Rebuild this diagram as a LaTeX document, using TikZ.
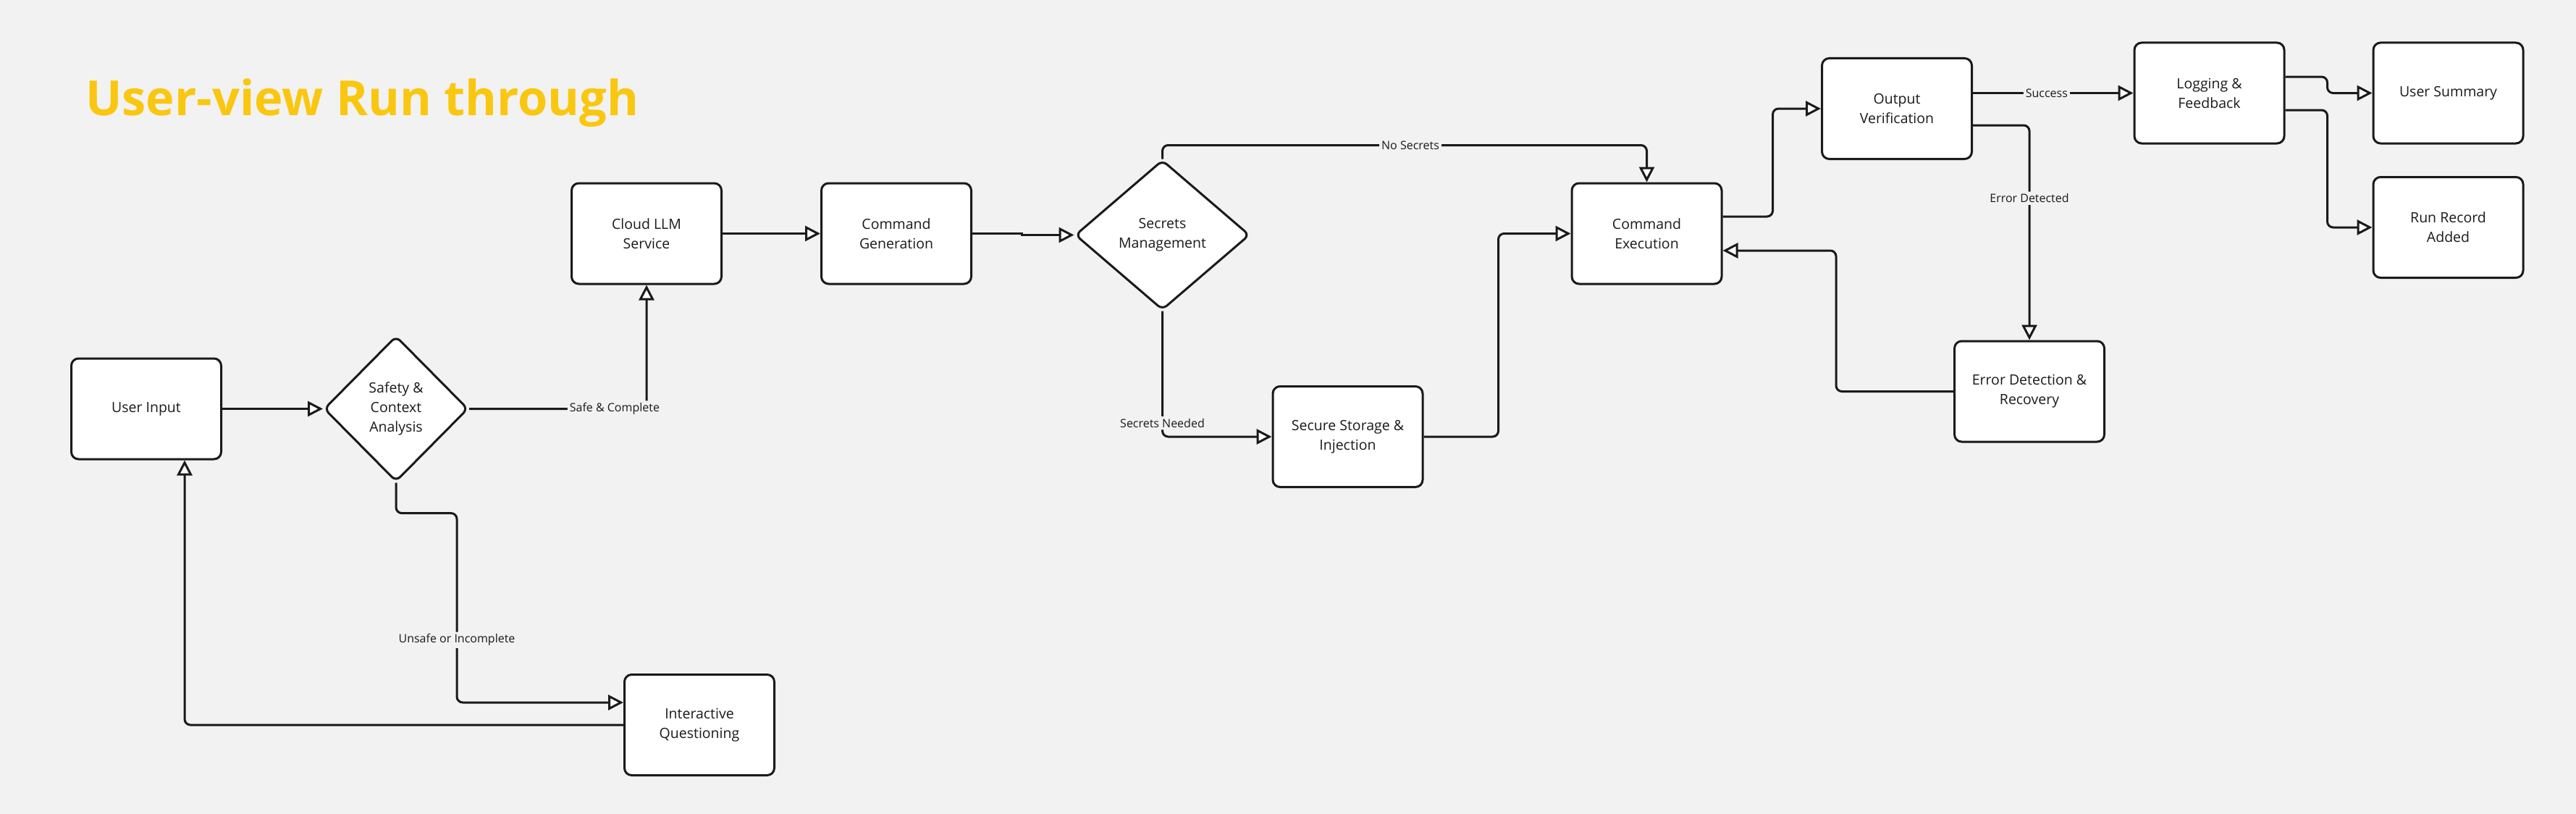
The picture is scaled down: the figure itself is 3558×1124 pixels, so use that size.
\documentclass[tikz,border=0pt]{standalone}
\usepackage{fontspec}
\setmainfont{Open Sans}
\usetikzlibrary{arrows.meta,shapes.geometric}
\definecolor{bg}{HTML}{F2F2F2}
\definecolor{ttl}{HTML}{FAC710}
\definecolor{ink}{HTML}{1A1A1A}
\begin{document}
\begin{tikzpicture}[x=1pt,y=-1pt,
  box/.style={draw=ink, line width=3pt, fill=white, rounded corners=10pt,
    minimum width=207pt, minimum height=139pt, align=center, text=ink,
    inner sep=0pt, font=\fontsize{19.5}{27}\selectfont},
  dia/.style={diamond, draw=ink, line width=3pt, fill=white, rounded corners=8pt,
    align=center, text=ink, inner sep=0pt, font=\fontsize{19.5}{27}\selectfont},
  conn/.style={draw=ink, line width=3pt, rounded corners=8pt,
    -{Triangle[length=21pt,width=21pt,fill=white]}},
  elabel/.style={fill=bg, text=ink, inner sep=3pt, font=\fontsize{16}{18}\selectfont},
]
\fill[bg] (0,0) rectangle (3558,1124);
\useasboundingbox (0,0) rectangle (3558,1124);

\node[anchor=base west, inner sep=0pt, text=ttl, font=\fontsize{66.8}{80}\selectfont\bfseries] (title) at (118,159) {User-view Run through};

\node[box] (ui) at (202,564.5) {User Input};
\node[dia, minimum width=199pt, minimum height=201pt] (safety) at (547,564.5) {Safety \&\\Context\\Analysis};
\node[box] (cloud) at (893,322.5) {Cloud LLM\\Service};
\node[box] (cmdgen) at (1238,322.5) {Command\\Generation};
\node[dia, minimum width=241pt, minimum height=207pt] (secrets) at (1605.5,324.5) {Secrets\\Management};
\node[box] (cmdexec) at (2274.5,322.5) {Command\\Execution};
\node[box] (secure) at (1861.5,603) {Secure Storage \&\\Injection};
\node[box] (ov) at (2620,150) {Output\\Verification};
\node[box] (errdet) at (2803,540.5) {Error Detection \&\\Recovery};
\node[box] (log) at (3051.5,128.5) {Logging \&\\Feedback};
\node[box] (usum) at (3381.5,128.5) {User Summary};
\node[box] (runrec) at (3381.5,314) {Run Record\\Added};
\node[box] (iq) at (966,1001) {Interactive\\Questioning};

\coordinate (cA) at (631,708.6);

\draw[conn] (ui.east) -- (safety.west);
\draw[conn] (safety.east) -| node[elabel, pos=0.41] {Safe \& Complete} (cloud.south);
\draw[conn] (cloud.east) -- (cmdgen.west);
\draw[conn, rounded corners=0pt] (cmdgen.east) -- ++(68,0) |- (secrets.west);
\draw[conn] (secrets.north) -- ++(0,-19) -| node[elabel, pos=0.256] {No Secrets} (cmdexec.north);
\draw[conn] (secrets.south) |- node[elabel, pos=0.446] {Secrets Needed} (secure.west);
\draw[conn] (secure.east) -- ++(103,0) |- (cmdexec.west);
\draw[conn] ([yshift=23.5pt]cmdexec.east) -- ++(69,0) |- (ov.west);
\draw[conn] (ov.east |- log.west) -- node[elabel, pos=0.46] {Success} (log.west);
\draw[conn] ([yshift=-23pt]ov.east) -| node[elabel, pos=0.67] {Error Detected} (errdet.north);
\draw[conn] (errdet.west) -- ++(-162,0) |- ([yshift=-23.5pt]cmdexec.east);
\draw[conn] ([yshift=22.5pt]log.east) -- ++(58,0) |- (usum.west);
\draw[conn] ([yshift=-23.5pt]log.east) -- ++(58,0) |- (runrec.west);
\draw[conn] (safety.south) |- (cA) |- node[elabel, pos=0.335] {Unsafe or Incomplete} ([yshift=31pt]iq.west);
\draw[conn] (iq.west) -| ([xshift=53pt]ui.south);
\end{tikzpicture}
\end{document}
